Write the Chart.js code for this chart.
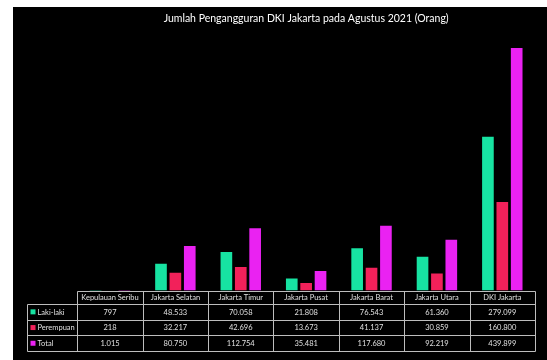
<!DOCTYPE html>
<html>
<head>
<meta charset="utf-8">
<script src="https://cdn.jsdelivr.net/npm/chart.js@4.4.1/dist/chart.umd.min.js"></script>
<style>
  html, body { margin: 0; padding: 0; background: #ffffff; width: 547px; height: 360px; overflow: hidden; }
  #wrap { position: absolute; left: 13px; top: 7px; width: 534px; height: 353px; background: #000000; }
</style>
</head>
<body>
<div id="wrap"><canvas id="c"></canvas></div>
<script>
const titleText = 'Jumlah Pengangguran DKI Jakarta pada Agustus 2021 (Orang)';
const categories = ['Kepulauan Seribu', 'Jakarta Selatan', 'Jakarta Timur', 'Jakarta Pusat', 'Jakarta Barat', 'Jakarta Utara', 'DKI Jakarta'];
const seriesNames = ['Laki-laki', 'Perempuan', 'Total'];
const lakiLaki = [797, 48533, 70058, 21808, 76543, 61360, 279099];
const perempuan = [218, 32217, 42696, 13673, 41137, 30859, 160800];
const total = [1015, 80750, 112754, 35481, 117680, 92219, 439899];
const seriesColors = ['#17E3A2', '#F2215A', '#EA22F2'];

const FONT = 'Lato, "Open Sans", "Liberation Sans", sans-serif';

function fmt(v) {
  return String(v).replace(/\B(?=(\d{3})+(?!\d))/g, '.');
}

const dataTablePlugin = {
  id: 'dataTable',
  afterDraw(chart) {
    const ctx = chart.ctx;
    const x = chart.scales.x;
    const area = chart.chartArea;
    const n = categories.length;
    const colW = (area.right - area.left) / n;
    const top = area.bottom + 0.5;
    const headerH = 13;
    const rowH = 15.7;
    const legendLeft = 14.5;
    const rows = [lakiLaki, perempuan, total];
    const bottom = top + headerH + rowH * rows.length;
    ctx.save();
    ctx.strokeStyle = '#bdbdbd';
    ctx.lineWidth = 1;
    const L = Math.round(area.left) + 0.5;
    const R = Math.round(area.right) + 0.5;
    ctx.beginPath();
    ctx.moveTo(L, Math.round(top) + 0.5); ctx.lineTo(R, Math.round(top) + 0.5);
    for (let r = 0; r <= rows.length; r++) {
      const y = Math.round(top + headerH + rowH * r) + 0.5;
      ctx.moveTo(legendLeft, y); ctx.lineTo(R, y);
    }
    for (let i = 0; i <= n; i++) {
      const xx = Math.round(x.getPixelForValue(i) - colW / 2) + 0.5;
      const xi = i === n ? R : xx;
      ctx.moveTo(xi, Math.round(top) + 0.5); ctx.lineTo(xi, Math.round(bottom) + 0.5);
    }
    ctx.moveTo(legendLeft, Math.round(top + headerH) + 0.5); ctx.lineTo(legendLeft, Math.round(bottom) + 0.5);
    ctx.stroke();

    ctx.fillStyle = '#e0e0e0';
    ctx.font = '7.5px ' + FONT;
    ctx.textAlign = 'center';
    ctx.textBaseline = 'middle';
    for (let i = 0; i < n; i++) {
      const cx = x.getPixelForValue(i);
      ctx.fillText(categories[i], cx, top + headerH / 2 + 0.5);
      for (let r = 0; r < rows.length; r++) {
        ctx.fillText(fmt(rows[r][i]), cx, top + headerH + rowH * r + rowH / 2 + 0.5);
      }
    }
    ctx.textAlign = 'left';
    for (let r = 0; r < rows.length; r++) {
      const cy = top + headerH + rowH * r + rowH / 2;
      ctx.fillStyle = seriesColors[r];
      ctx.fillRect(legendLeft + 3, cy - 2.5, 5, 5);
      ctx.fillStyle = '#e0e0e0';
      ctx.fillText(seriesNames[r], legendLeft + 10, cy + 0.5);
    }
    ctx.restore();
  }
};

new Chart(document.getElementById('c'), {
  type: 'bar',
  data: {
    labels: categories,
    datasets: [
      { label: seriesNames[0], data: lakiLaki, backgroundColor: seriesColors[0] },
      { label: seriesNames[1], data: perempuan, backgroundColor: seriesColors[1] },
      { label: seriesNames[2], data: total, backgroundColor: seriesColors[2] }
    ]
  },
  options: {
    responsive: true,
    maintainAspectRatio: false,
    animation: false,
    devicePixelRatio: 1,
    layout: { padding: { left: 64.3, right: 12, top: 0, bottom: 69.5 } },
    datasets: { bar: { categoryPercentage: 0.66, barPercentage: 0.81 } },
    scales: {
      x: { display: false },
      y: { display: false, min: 0, max: 450000 }
    },
    plugins: {
      legend: { display: false },
      tooltip: { enabled: false },
      title: {
        display: true,
        text: titleText,
        color: '#ffffff',
        font: { family: FONT, size: 10.5, weight: 'normal', lineHeight: 1.2 },
        padding: { top: 5.5, bottom: 17.4 }
      }
    }
  },
  plugins: [dataTablePlugin]
});
</script>
</body>
</html>
